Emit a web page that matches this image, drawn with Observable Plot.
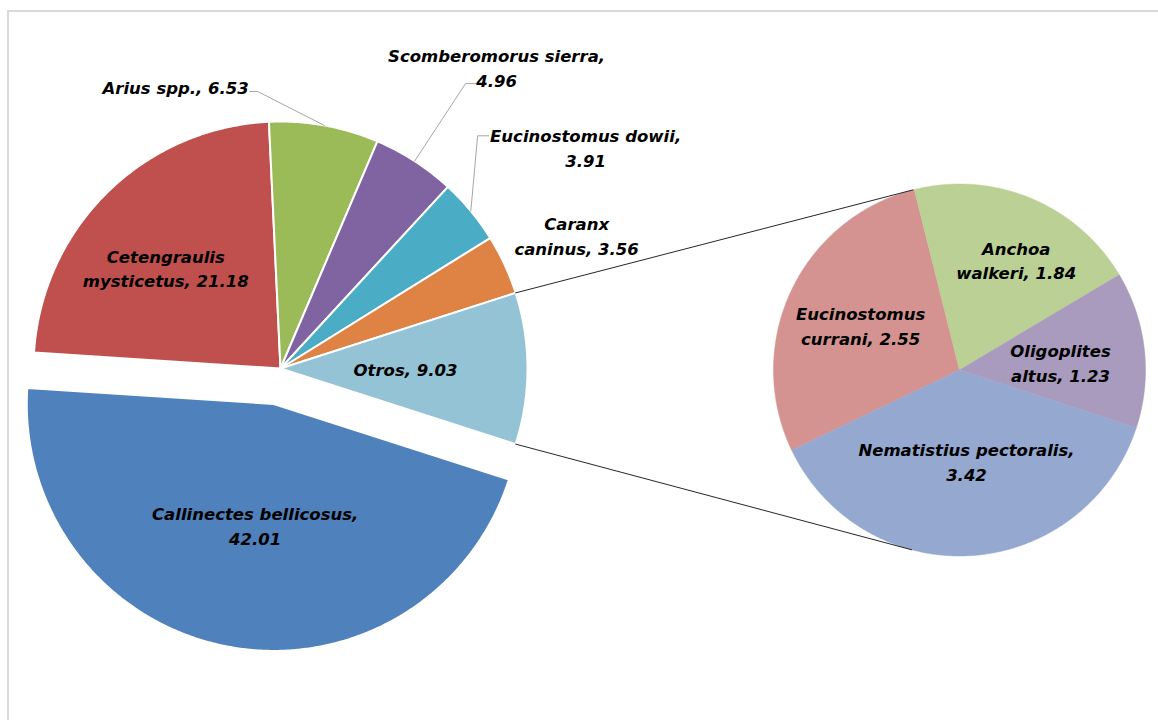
<!DOCTYPE html>
<html>
<head>
<meta charset="utf-8">
<script src="https://cdn.jsdelivr.net/npm/d3@7"></script>
<script src="https://cdn.jsdelivr.net/npm/@observablehq/plot@0.6"></script>
<style>
  html, body { margin: 0; padding: 0; background: #fff; }
  #wrap { position: relative; width: 1158px; height: 720px; overflow: hidden; }
  #frame { position: absolute; left: 7px; top: 10px; width: 1300px; height: 900px;
           border-left: 2px solid #d9d9d9; border-top: 2px solid #d9d9d9; }
  #chart { position: absolute; left: 0; top: 0; }
</style>
</head>
<body>
<div id="wrap"><div id="frame"></div><div id="chart"></div></div>
<script>
// Catch composition (%) — main pie and the breakdown of "Otros"
const mainSpecies = ["Callinectes bellicosus", "Cetengraulis mysticetus", "Arius spp.",
  "Scomberomorus sierra", "Eucinostomus dowii", "Caranx caninus", "Otros"];
const mainValues = [42.01, 21.18, 6.53, 4.96, 3.91, 3.56, 9.03];

const otherSpecies = ["Eucinostomus currani", "Anchoa walkeri", "Oligoplites altus", "Nematistius pectoralis"];
const otherValues = [2.55, 1.84, 1.23, 3.42];

const mainColors = ["#4f81bd", "#c0504d", "#9bbb59", "#8064a2", "#4bacc6", "#de8344", "#93c3d5"];
const otherColors = ["#d49391", "#bbd095", "#a99bbe", "#94a8d0"];

// ---- layout ----
const W = 1158, H = 720;
const deg = Math.PI / 180;
const MAIN = {cx: 280, cy: 368, r: 247};
const SUB = {cx: 959, cy: 369.5, r: 186};
const SUB_START = 154.4 * deg;          // where the breakdown pie begins
const EXPLODE = {"Callinectes bellicosus": 0.146};

// label placement: radial fraction k, angular nudge (deg), line wrapping, leader elbow
const labelLayout = {
  "Callinectes bellicosus": {k: 0.495, da: -2,    wrap: "comma"},
  "Cetengraulis mysticetus": {k: 0.62, da: -4,    wrap: "word"},
  "Arius spp.":             {k: 1.218, da: -30.6, wrap: "none",  leader: [[82, 5], [74, 5]]},
  "Scomberomorus sierra":   {k: 1.503, da: 2.7,   wrap: "comma", leader: [[-31, 17], [-18, 17]]},
  "Eucinostomus dowii":     {k: 1.527, da: 3.6,   wrap: "comma", leader: [[-108, -11], [-97, -11]]},
  "Caranx caninus":         {k: 1.316, da: 0.5,   wrap: "word"},
  "Otros":                  {k: 0.506, da: 0,     wrap: "none"},
  "Eucinostomus currani":   {k: 0.585, da: -0.5,  wrap: "word"},
  "Anchoa walkeri":         {k: 0.67,  da: 4.5,   wrap: "word"},
  "Oligoplites altus":      {k: 0.545, da: 1.5,   wrap: "word"},
  "Nematistius pectoralis": {k: 0.49,  da: -0.7,  wrap: "comma"}
};

// angles measured clockwise from 3 o'clock (screen coordinates)
function layoutPie(names, values, start, geo) {
  const total = d3.sum(values);
  let a = start;
  return names.map((name, i) => {
    const a0 = a, a1 = a + values[i] / total * 2 * Math.PI;
    a = a1;
    const mid = (a0 + a1) / 2;
    const off = (EXPLODE[name] || 0) * geo.r;
    return {name, value: values[i], a0, a1, mid,
            cx: geo.cx + off * Math.cos(mid), cy: geo.cy + off * Math.sin(mid), r: geo.r};
  });
}

// the "Otros" slice is centred on the 3 o'clock direction, facing the breakdown pie
const otrosShare = mainValues[mainSpecies.indexOf("Otros")] / d3.sum(mainValues);
const mainSlices = layoutPie(mainSpecies, mainValues, otrosShare * Math.PI, MAIN);
const subSlices = layoutPie(otherSpecies, otherValues, SUB_START, SUB);

function polygon(s) {
  const pts = [{name: s.name, x: s.cx, y: s.cy}];
  const n = Math.max(2, Math.ceil((s.a1 - s.a0) / (0.4 * deg)));
  for (let i = 0; i <= n; i++) {
    const a = s.a0 + (s.a1 - s.a0) * i / n;
    pts.push({name: s.name, x: s.cx + s.r * Math.cos(a), y: s.cy + s.r * Math.sin(a)});
  }
  pts.push({name: s.name, x: s.cx, y: s.cy});
  return pts;
}
const mainPoly = mainSlices.flatMap(polygon);
const subPoly = subSlices.flatMap(polygon);

// connectors: from the edges of "Otros" tangent to the breakdown pie
const otros = mainSlices.find(d => d.name === "Otros");
function tangent(px, py, side) {
  const dx = px - SUB.cx, dy = py - SUB.cy;
  const d = Math.hypot(dx, dy);
  const phi = Math.atan2(dy, dx) + side * Math.acos(SUB.r / d);
  return {x: SUB.cx + SUB.r * Math.cos(phi), y: SUB.cy + SUB.r * Math.sin(phi)};
}
const connectors = [];
[[otros.a0, 1], [otros.a1, -1]].forEach(([a, side], i) => {
  const p = {x: otros.cx + otros.r * Math.cos(a), y: otros.cy + otros.r * Math.sin(a)};
  const t = tangent(p.x, p.y, side);
  connectors.push({id: i, x: p.x, y: p.y}, {id: i, x: t.x, y: t.y});
});

// labels
const fmt = v => v.toFixed(2);
function labelText(name, value, wrap) {
  if (wrap === "word") { const i = name.indexOf(" "); return name.slice(0, i) + "\n" + name.slice(i + 1) + ", " + fmt(value); }
  if (wrap === "comma") return name + ",\n" + fmt(value);
  return name + ", " + fmt(value);
}
const labels = [...mainSlices, ...subSlices].map(s => {
  const L = labelLayout[s.name];
  const a = s.mid + L.da * deg;
  return {name: s.name, text: labelText(s.name, s.value, L.wrap),
          x: s.cx + L.k * s.r * Math.cos(a), y: s.cy + L.k * s.r * Math.sin(a)};
});

// leader lines from the slice's outer midpoint to its label
const leaders = [];
labels.forEach(l => {
  const L = labelLayout[l.name];
  if (!L.leader) return;
  const s = mainSlices.find(d => d.name === l.name);
  leaders.push({name: l.name, x: s.cx + s.r * Math.cos(s.mid), y: s.cy + s.r * Math.sin(s.mid)});
  L.leader.forEach(([dx, dy]) => leaders.push({name: l.name, x: l.x + dx, y: l.y + dy}));
});

const chart = Plot.plot({
  width: W, height: H, margin: 0,
  style: {background: "transparent", overflow: "visible"},
  x: {domain: [0, W], range: [0, W], axis: null},
  y: {domain: [0, H], range: [0, H], axis: null},
  color: {domain: [...mainSpecies, ...otherSpecies], range: [...mainColors, ...otherColors]},
  marks: [
    Plot.line(subPoly, {x: "x", y: "y", z: "name", fill: "name", stroke: "name", strokeWidth: 0.5, curve: "linear"}),
    Plot.line(mainPoly, {x: "x", y: "y", z: "name", fill: "name", stroke: "white", strokeWidth: 2,
                         strokeLinejoin: "round", curve: "linear"}),
    Plot.line(connectors, {x: "x", y: "y", z: "id", stroke: "#262626", strokeWidth: 1}),
    Plot.line(leaders, {x: "x", y: "y", z: "name", stroke: "#a6a6a6", strokeWidth: 1}),
    Plot.text(labels, {x: "x", y: "y", text: "text", fill: "black", fontSize: 16.5,
                       fontWeight: "bold", fontStyle: "italic", lineHeight: 1.5,
                       textAnchor: "middle", lineAnchor: "middle",
                       fontFamily: "'DejaVu Sans', sans-serif"})
  ]
});
document.getElementById("chart").appendChild(chart);
</script>
</body>
</html>
